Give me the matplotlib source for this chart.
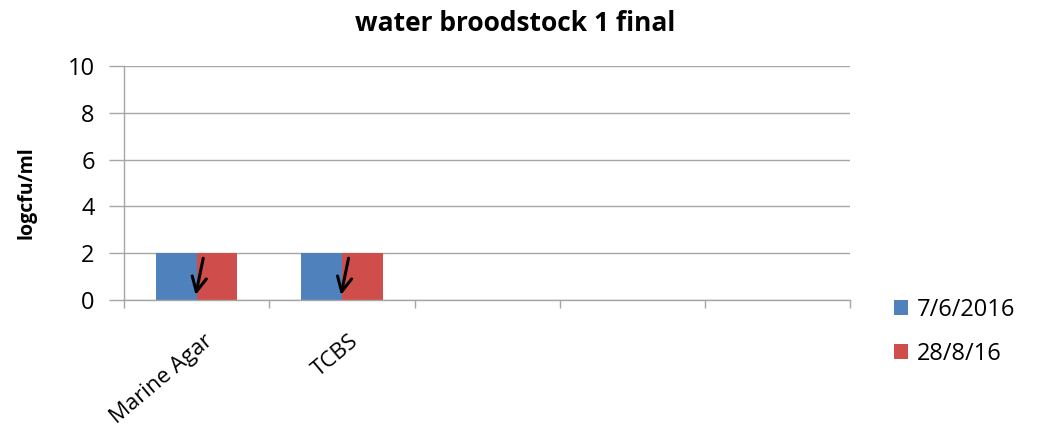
import matplotlib
matplotlib.use("Agg")
from matplotlib import pyplot as plt
import numpy as np

plt.rcParams['font.family'] = ['Open Sans', 'DejaVu Sans']

# data
categories = ['Marine Agar', 'TCBS', '', '', '']
series_names = ['7/6/2016', '28/8/16']
values_1 = [2, 2, 0, 0, 0]
values_2 = [2, 2, 0, 0, 0]
n_filled = 2
yticks = [0, 2, 4, 6, 8, 10]

blue = '#4F81BD'
red = '#CF4D4A'
grid_col = '#A6A6A6'

fig = plt.figure(figsize=(10.41, 4.28), dpi=100)
ax = fig.add_axes([0.119, 0.299, 0.698, 0.547])

x = np.arange(len(categories))
w = 0.28
b1 = ax.bar(x[:n_filled] - w / 2, values_1[:n_filled], w, color=blue, label=series_names[0])
b2 = ax.bar(x[:n_filled] + w / 2, values_2[:n_filled], w, color=red, label=series_names[1])

# hand drawn down arrows over the bars
for xi in x[:n_filled]:
    ax.annotate('', xy=(xi - 0.01, 0.1), xytext=(xi + 0.05, 1.9),
                arrowprops=dict(arrowstyle='->', color='black', lw=2.2,
                                mutation_scale=26))

ax.set_xlim(-0.5, len(categories) - 0.5)
ax.set_ylim(0, 10)
ax.set_yticks(yticks)
ax.yaxis.grid(True, color=grid_col, lw=1)
ax.set_axisbelow(True)

ax.set_xticks(x + 0.05)
ax.set_xticklabels(categories, rotation=40, ha='right', rotation_mode='anchor', fontsize=16)
ax.tick_params(axis='x', length=0, pad=22)
ax.set_xticks(np.arange(len(categories) + 1) - 0.5, minor=True)
ax.tick_params(axis='x', which='minor', length=6, color=grid_col, width=1)
ax.tick_params(axis='y', length=11, color=grid_col, width=1, labelsize=17, pad=10)

for s in ['top', 'right']:
    ax.spines[s].set_visible(False)
for s in ['left', 'bottom']:
    ax.spines[s].set_color(grid_col)
    ax.spines[s].set_linewidth(1)

ax.set_ylabel('logcfu/ml', fontsize=14, fontweight='bold')
ax.yaxis.set_label_coords(-0.12, 0.46)
fig.text(0.495, 0.945, 'water broodstock 1 final', ha='center', va='center',
         fontsize=19, fontweight='bold')

fig.legend(handles=[b1, b2], loc='center left', bbox_to_anchor=(0.838, 0.225),
           frameon=False, fontsize=17, handlelength=0.6, handleheight=0.6,
           handletextpad=0.4, labelspacing=0.85)

fig.savefig('out.png', dpi=100)
